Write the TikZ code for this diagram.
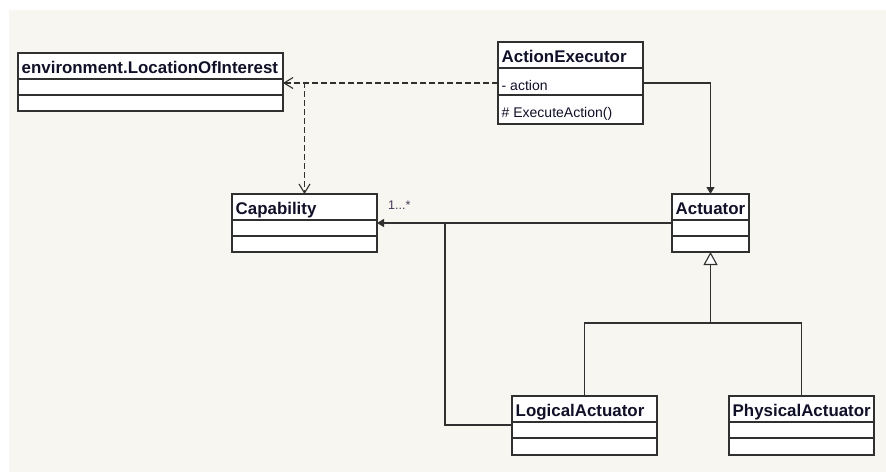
\documentclass[tikz,border=0pt]{standalone}
\usepackage{fontspec}
\setmainfont{Liberation Sans}
\usetikzlibrary{arrows.meta,calc}

\definecolor{canvas}{RGB}{248,246,240}
\definecolor{edge}{RGB}{48,48,48}
\definecolor{ink}{RGB}{16,16,40}
\definecolor{multcol}{RGB}{74,58,90}

\tikzset{
  classbox/.style={draw=edge, fill=white, line width=1.3pt, inner sep=0pt, outer sep=0pt},
  sep/.style={draw=edge, line width=1.3pt},
  titletext/.style={anchor=base west, inner sep=0pt, text=ink, font=\fontsize{16.9}{18}\selectfont\bfseries},
  membertext/.style={anchor=base west, inner sep=0pt, text=ink, font=\fontsize{14}{16}\selectfont},
  conn/.style={draw=edge, line width=1.3pt},
  dep/.style={conn, dash pattern=on 6pt off 3pt, -{Straight Barb[length=9pt,width=11pt,line width=1.1pt]}},
  assoc/.style={conn, -{Triangle[length=7pt,width=8pt]}},
  gen/.style={conn, -{Triangle[open,length=13pt,width=14pt,fill=white,line width=1.1pt]}},
}

% \umlclass{name}{x}{y}{width}{height}{header bottom}{attribute bottom}{title}
\newcommand{\umlclass}[8]{%
  \node[classbox, anchor=north west, minimum width=#4pt, minimum height=#5pt] (#1) at (#2,#3) {};
  \draw[sep] ([yshift=-#6pt]#1.north west) -- ([yshift=-#6pt]#1.north east);
  \draw[sep] ([yshift=-#7pt]#1.north west) -- ([yshift=-#7pt]#1.north east);
  \node[titletext] (#1-title) at ([xshift=3.5pt,yshift=-20.5pt]#1.north west) {#8};
}

\begin{document}
\begin{tikzpicture}[x=1pt, y=-1pt]
  \useasboundingbox (0,0) rectangle (886,472);
  \fill[white] (0,0) rectangle (886,472);
  \fill[canvas] (9,10) rectangle (886,472);

  % classes
  \umlclass{loi}{18}{53}{265}{58}{26}{42}{environment.LocationOfInterest}
  \umlclass{cap}{232}{194}{145}{58}{26}{42}{Capability}
  \umlclass{ae}{498}{42}{145}{82}{26}{53}{ActionExecutor}
  \umlclass{act}{672}{194}{77}{58}{26}{42}{Actuator}
  \umlclass{la}{512}{396}{145}{59}{26}{42}{LogicalActuator}
  \umlclass{pa}{729}{396}{145}{59}{26}{42}{PhysicalActuator}

  \node[membertext] (ae-attr) at ([xshift=3.5pt,yshift=-48.7pt]ae.north west) {- action};
  \node[membertext] (ae-op) at ([xshift=3.5pt,yshift=-75.3pt]ae.north west) {\# ExecuteAction()};

  % dependencies of ActionExecutor
  \coordinate (aeport) at ([yshift=-41pt]ae.north west);
  \coordinate (loiport) at ([yshift=-30pt]loi.north east);
  \coordinate (split) at (cap.north |- loiport);
  \draw[dep] (aeport) -- (loiport);
  \draw[dep, shorten <=-0.6pt] (split) -- (cap.north);

  % association ActionExecutor -> Actuator
  \draw[assoc] ([yshift=-41pt]ae.north east) -| (act.north);

  % association Actuator -> Capability
  \coordinate (actport) at ([yshift=-29pt]act.north west);
  \coordinate (capport) at ([yshift=-29pt]cap.north east);
  \draw[assoc] (actport) -- (capport);
  \node[anchor=base west, inner sep=0pt, text=multcol, font=\fontsize{12.5}{14}\selectfont] (mult) at (388,209.3) {1...*};

  % LogicalActuator joins the Capability association
  \coordinate (join) at ($(capport)+(68,0)$);
  \draw[conn] (join) |- ([yshift=-29pt]la.north west);

  % generalization
  \coordinate (bus) at ($(act.south)+(0,71)$);
  \draw[conn] (la.north) |- (bus) -| (pa.north);
  \draw[gen] (bus) -- (act.south);
\end{tikzpicture}
\end{document}
